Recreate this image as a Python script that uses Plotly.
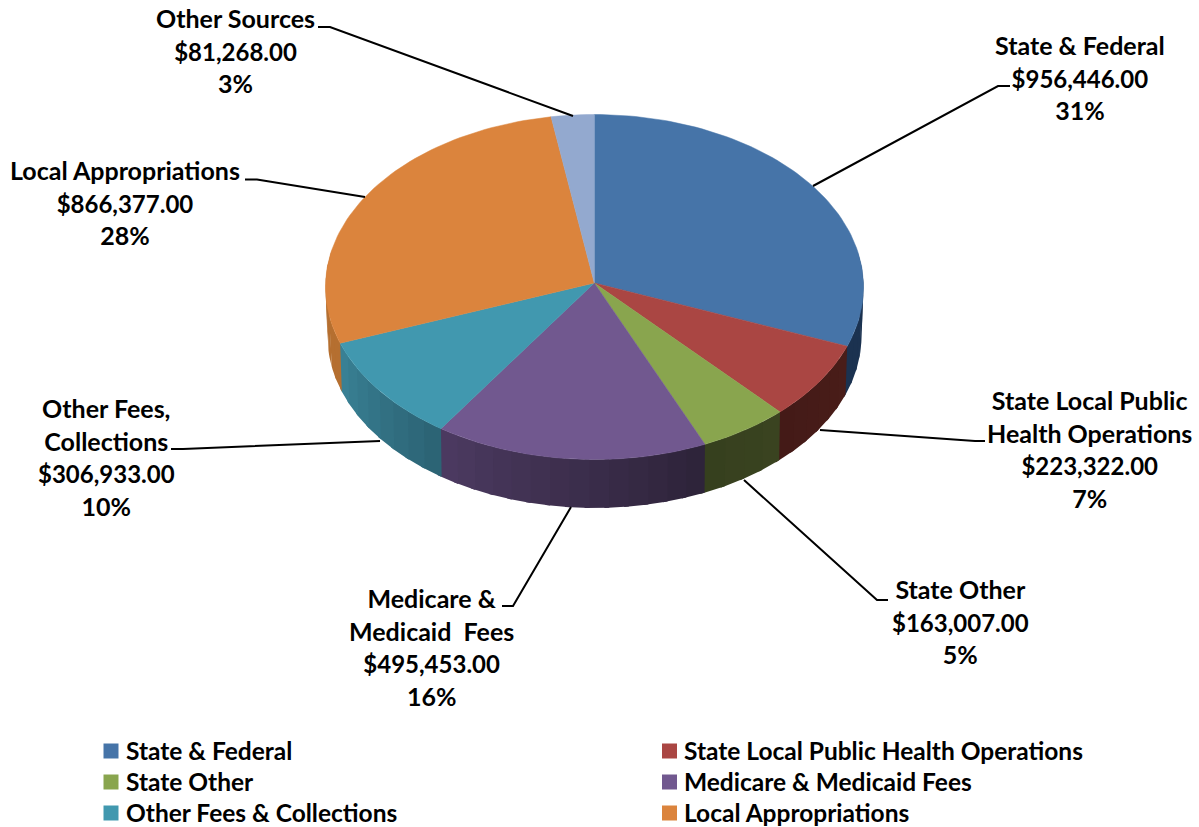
import math
import plotly.graph_objects as go

# ---- data ----
names = ["State & Federal", "State Local Public Health Operations", "State Other",
         "Medicare & Medicaid Fees", "Other Fees & Collections", "Local Appropriations",
         "Other Sources"]
values = [956446, 223322, 163007, 495453, 306933, 866377, 81268]
percents = [31, 7, 5, 16, 10, 28, 3]
label_titles = ["State & Federal", "State Local Public<br>Health Operations", "State Other",
                "Medicare &<br>Medicaid  Fees", "Other Fees,<br>Collections",
                "Local Appropriations", "Other Sources"]
legend_names = names[:6]

# ---- styles and layout ----
top_colors = ["#4674A8", "#AA4643", "#89A54E", "#71588F", "#4198AF", "#DB843D", "#93A9CF"]
side_from = ["#1B3250", "#4A1D19", "#3A4320", "#2D2339", "#2B6273", "#B56F30", "#7F93B4"]
side_to = ["#1B3250", "#431A17", "#36401E", "#4C3A61", "#3A8296", "#B56F30", "#7F93B4"]
legend_colors = top_colors[:6]
FONT = "Lato"
FS = 25
NUM_FS = 24
APEX = (594.3, 283.0)
TOP = dict(cx=594.5, cy=287.0, rx=269.0, ry=172.5)
BOT = dict(cx=594.5, cy=336.2, rx=267.0, ry=171.8)
SQUASH = 0.64
label_pos = [(1080, 77), (1089, 449), (960, 621), (431, 647), (106, 457), (125, 202), (235, 50)]
leaders = [
    ([1010, 998, 813], [86, 86, 186]),
    ([985, 975, 820], [441, 441, 430]),
    ([888, 877, 744], [600, 600, 480]),
    ([502, 513, 571], [606, 606, 507]),
    ([171, 183, 380], [449, 449, 441]),
    ([245, 257, 365], [179.5, 179.5, 197]),
    ([318, 330, 573], [27, 27, 116]),
]
legend_rows_y = [750, 781, 812]
legend_key_x = [111, 669.5]
legend_text_x = [124, 682]
W, H = 1199, 827


def hit(theta_deg, ell, apex):
    """Where the ray from the apex at a clockwise pie angle meets an ellipse."""
    t = math.radians(theta_deg)
    dx, dy = math.sin(t), -math.cos(t) * SQUASH
    ox, oy = (apex[0] - ell["cx"]) / ell["rx"], (apex[1] - ell["cy"]) / ell["ry"]
    ax, ay = dx / ell["rx"], dy / ell["ry"]
    a = ax * ax + ay * ay
    b = 2 * (ox * ax + oy * ay)
    c = ox * ox + oy * oy - 1
    s = (-b + math.sqrt(b * b - 4 * a * c)) / (2 * a)
    return apex[0] + s * dx, apex[1] + s * dy


def mix(c1, c2, f):
    p = [int(c1[i:i + 2], 16) for i in (1, 3, 5)]
    q = [int(c2[i:i + 2], 16) for i in (1, 3, 5)]
    return "#" + "".join(f"{round(a + (b - a) * f):02X}" for a, b in zip(p, q))


total = sum(values)
edges = [0.0]
for v in values:
    edges.append(edges[-1] + 360.0 * v / total)

fig = go.Figure()

# side wall: stepped strips along the visible front of the disc; each strip
# runs a little past its end so the next one paints over the seam
APEX_B = (APEX[0], APEX[1] + 49)
for i in range(len(values)):
    lo, hi = max(edges[i], 80), min(edges[i + 1], 280)
    if hi <= lo:
        continue
    n = max(1, int((hi - lo) / 4))
    step = (hi - lo) / n
    for k in range(n):
        a0 = lo + step * k
        a1 = a0 + step + 1.0
        angs = [a0 + (a1 - a0) * j / 5 for j in range(6)]
        upper = [hit(a, TOP, APEX) for a in angs]
        lower = [hit(a, BOT, APEX_B) for a in reversed(angs)]
        pts = upper + lower + upper[:1]
        col = mix(side_from[i], side_to[i], (k + 0.5) / n)
        fig.add_trace(go.Scatter(x=[p[0] for p in pts], y=[p[1] for p in pts], mode="lines",
                                 fill="toself", fillcolor=col, line=dict(width=0),
                                 showlegend=False, hoverinfo="skip"))

# top surface
for i in range(len(values)):
    n = max(4, int((edges[i + 1] - edges[i]) / 1.5))
    angs = [edges[i] + (edges[i + 1] - edges[i]) * j / n for j in range(n + 1)]
    arc = [hit(a, TOP, APEX) for a in angs]
    pts = [APEX] + arc + [APEX]
    fig.add_trace(go.Scatter(x=[p[0] for p in pts], y=[p[1] for p in pts], mode="lines",
                             fill="toself", fillcolor=top_colors[i],
                             line=dict(color=top_colors[i], width=0.5),
                             name=names[i], showlegend=False, hoverinfo="skip"))

# leader lines
for lx, ly in leaders:
    fig.add_trace(go.Scatter(x=lx, y=ly, mode="lines", line=dict(color="black", width=2),
                             showlegend=False, hoverinfo="skip"))

# legend, laid out in two columns and three rows
for j, (nm, col) in enumerate(zip(legend_names, legend_colors)):
    row, column = j // 2, j % 2
    fig.add_trace(go.Scatter(x=[legend_key_x[column]], y=[legend_rows_y[row] + 1], mode="markers",
                             name=nm, showlegend=False, hoverinfo="skip",
                             marker=dict(symbol="square", size=15, color=col, line=dict(width=0))))
    fig.add_annotation(x=legend_text_x[column], y=legend_rows_y[row], text=f"<b>{nm}</b>",
                       showarrow=False, xanchor="left", yanchor="middle",
                       font=dict(family=FONT, size=24.5, color="black"))

# data labels
for i, (px, py) in enumerate(label_pos):
    num = f'<span style="font-size:{NUM_FS}px">${values[i]:,}.00</span>'
    txt = f"<b>{label_titles[i]}<br>{num}<br>{percents[i]}%</b>"
    fig.add_annotation(x=px, y=py, text=txt, showarrow=False, align="center",
                       xanchor="center", yanchor="middle",
                       font=dict(family=FONT, size=FS, color="black"))

fig.update_layout(
    width=W, height=H, margin=dict(l=0, r=0, t=0, b=0, pad=0),
    paper_bgcolor="white", plot_bgcolor="white",
    xaxis=dict(range=[0, W], visible=False, fixedrange=True),
    yaxis=dict(range=[H, 0], visible=False, fixedrange=True),
    showlegend=False,
)
fig.write_html("out.html", config={"displayModeBar": False},
               post_script="document.body.style.margin='0';document.body.style.overflow='hidden';")
